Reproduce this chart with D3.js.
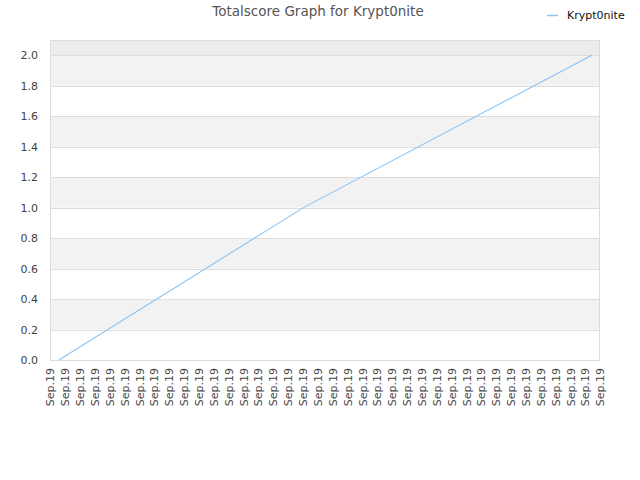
<!DOCTYPE html>
<html><head><meta charset="utf-8">
<script src="https://cdn.jsdelivr.net/npm/d3@7"></script>
<style>body{margin:0;background:#fff;} svg{display:block;}</style>
</head><body>
<script>
const title = "Totalscore Graph for Krypt0nite";
const seriesName = "Krypt0nite";
const tickLabels = Array.from({length: 38}, () => "Sep.19");
const pointPos = [0.6, 17.05, 36.45];
const pointValues = [0, 1, 2];
const yTicks = [0, 0.2, 0.4, 0.6, 0.8, 1.0, 1.2, 1.4, 1.6, 1.8, 2.0];

const W = 640, H = 480;
const m = {left: 50, right: 40, top: 40, bottom: 120};
const svg = d3.select("body").append("svg").attr("width", W).attr("height", H);
const font = "DejaVu Sans, sans-serif";

const x = d3.scaleLinear().domain([0, tickLabels.length - 1]).range([m.left, W - m.right]);
const y = d3.scaleLinear().domain([0, 2.1]).range([H - m.bottom, m.top]);

// bands
const bands = [];
for (let i = 0; i < yTicks.length - 1; i++) bands.push([yTicks[i], yTicks[i+1], i]);
svg.append("g").selectAll("rect").data(bands).join("rect")
  .attr("x", m.left).attr("width", W - m.right - m.left)
  .attr("y", d => y(d[1])).attr("height", d => y(d[0]) - y(d[1]))
  .attr("fill", d => d[2] % 2 === 1 ? "#f2f2f2" : "#ffffff");
svg.append("rect").attr("x", m.left).attr("width", W - m.right - m.left)
  .attr("y", y(2.1)).attr("height", y(2.0) - y(2.1)).attr("fill", "#ececec");

// grid lines
svg.append("g").selectAll("line").data(yTicks.slice(1)).join("line")
  .attr("x1", m.left).attr("x2", W - m.right)
  .attr("y1", d => Math.round(y(d)) + 0.5).attr("y2", d => Math.round(y(d)) + 0.5)
  .attr("stroke", "#dddddd");

// frame
svg.append("rect").attr("x", m.left + 0.5).attr("y", m.top + 0.5)
  .attr("width", W - m.right - m.left - 1).attr("height", H - m.bottom - m.top)
  .attr("fill", "none").attr("stroke", "#dcdcdc");

// y axis
const yAxis = d3.axisLeft(y).tickValues(yTicks).tickFormat(d3.format(".1f")).tickSize(0).tickPadding(12);
const gy = svg.append("g").attr("transform", `translate(${m.left},0)`).call(yAxis);
gy.select(".domain").remove();
gy.selectAll("text").attr("font-family", font).attr("font-size", 11).attr("fill", "#444");

// x axis
const xAxis = d3.axisBottom(x).tickValues(d3.range(tickLabels.length)).tickFormat(i => tickLabels[i]).tickSize(0).tickPadding(0);
const gx = svg.append("g").attr("transform", `translate(0,${H - m.bottom})`).call(xAxis);
gx.select(".domain").remove();
gx.selectAll("text").attr("font-family", font).attr("font-size", 11).attr("fill", "#444")
  .attr("text-anchor", "end").attr("dy", "0.35em")
  .attr("transform", "translate(0,8) rotate(-90)").attr("x", 0).attr("y", 0);

// line
const pts = pointPos.map((p, i) => [p, pointValues[i]]);
svg.append("path").datum(pts)
  .attr("d", d3.line().x(d => x(d[0])).y(d => y(d[1])))
  .attr("fill", "none").attr("stroke", "#8cc3f4").attr("stroke-width", 1.1);

// title
svg.append("text").attr("x", 318).attr("y", 16).attr("text-anchor", "middle")
  .attr("font-family", font).attr("font-size", 13.5).attr("fill", "#555").text(title);

// legend
svg.append("line").attr("x1", 547).attr("x2", 558).attr("y1", 15.5).attr("y2", 15.5)
  .attr("stroke", "#8cc3f4").attr("stroke-width", 1.5);
svg.append("text").attr("x", 567).attr("y", 19).attr("font-family", font)
  .attr("font-size", 11).attr("fill", "#111").text(seriesName);
</script>
</body></html>
